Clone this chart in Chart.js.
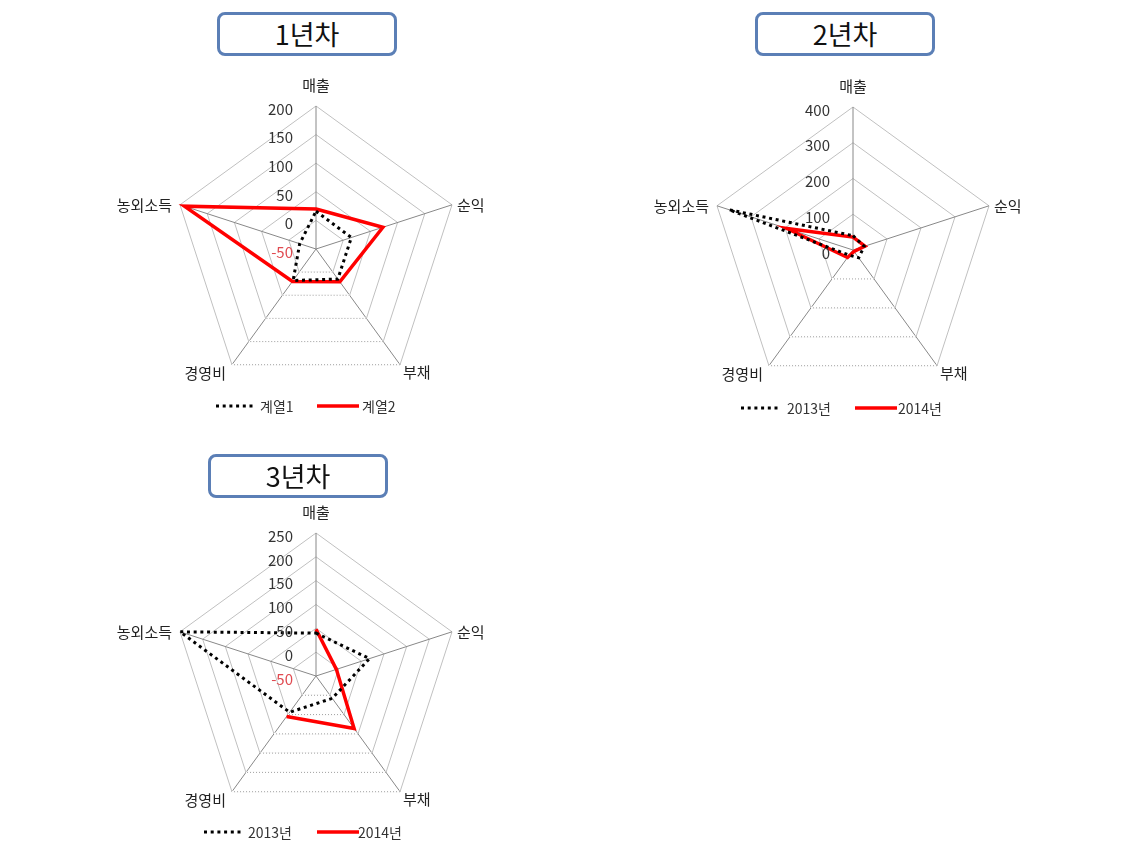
<!DOCTYPE html>
<html>
<head>
<meta charset="utf-8">
<script src="https://cdn.jsdelivr.net/npm/chart.js@4.4.1/dist/chart.umd.min.js"></script>
<style>
  html, body { margin:0; padding:0; background:#fff; width:1135px; height:847px; overflow:hidden; }
  body { position:relative; font-family:"Noto Sans CJK KR", "Noto Sans", sans-serif; }
  .wrap { position:absolute; width:460px; height:380px; }
  .title { position:absolute; box-sizing:border-box; width:180px; height:44px; border:3px solid #5b7fb6;
           border-radius:8px; background:#fff; font-size:27px; line-height:38px; text-align:center; color:#111; }
  .legend { position:absolute; font-size:14px; color:#333; line-height:16px; }
  .legend span { position:absolute; white-space:nowrap; }
  .legend svg { position:absolute; }
</style>
</head>
<body>
<script>
// ---------- data ----------
const categories = ['매출', '순익', '부채', '경영비', '농외소득'];

const year1Titles = '1년차';
const year1Labels = ['계열1', '계열2'];
const year1Series1 = [16, 15, 15, 18, -20];
const year1Series2 = [20, 73, 21, 20, 192];
const year1Ticks = { min: -50, max: 200, step: 50 };

const year2Titles = '2년차';
const year2Labels = ['2013년', '2014년'];
const year2Series1 = [40, 33, 27, 18, 365];
const year2Series2 = [36, 35, 5, 26, 195];
const year2Ticks = { min: 0, max: 400, step: 100 };

const year3Titles = '3년차';
const year3Labels = ['2013년', '2014년'];
const year3Series1 = [40, 68, 8, 44, 250];
const year3Series2 = [48, -5, 86, 55, null];
const year3Ticks = { min: -50, max: 250, step: 50 };

// ---------- layout / style ----------
const panels = [
  { title: year1Titles, labels: year1Labels, s1: year1Series1, s2: year1Series2, ticks: year1Ticks,
    wrap: [86, 59], titleBox: [217, 12], legend: { y: 398, dot: 215, t1: 260, line: 317, t2: 362 } },
  { title: year2Titles, labels: year2Labels, s1: year2Series1, s2: year2Series2, ticks: year2Ticks,
    wrap: [623, 60], titleBox: [755, 12], legend: { y: 400, dot: 740, t1: 787, line: 855, t2: 898 } },
  { title: year3Titles, labels: year3Labels, s1: year3Series1, s2: year3Series2, ticks: year3Ticks,
    wrap: [86, 486], titleBox: [208, 454], legend: { y: 824, dot: 203, t1: 248, line: 317, t2: 358 } }
];

const LABEL_POS = [
  { dx: 0, dy: -21, align: 'center' },
  { dx: 5, dy: 0, align: 'left' },
  { dx: 3, dy: 8, align: 'left' },
  { dx: -6, dy: 9, align: 'right' },
  { dx: -8, dy: 0, align: 'right' }
];

const textPlugin = {
  id: 'textPlugin',
  beforeDatasetsDraw(chart) {
    const s = chart.scales.r, ctx = chart.ctx;
    ctx.save();
    s.ticks.forEach(t => {
      if (t.value <= s.min) return;
      const a = s.getPointPositionForValue(2, t.value);
      const b = s.getPointPositionForValue(3, t.value);
      ctx.strokeStyle = '#fff'; ctx.lineWidth = 2; ctx.setLineDash([]);
      ctx.beginPath(); ctx.moveTo(a.x, a.y); ctx.lineTo(b.x, b.y); ctx.stroke();
      ctx.strokeStyle = '#a0a0a0'; ctx.lineWidth = 1; ctx.setLineDash([1, 2]);
      ctx.beginPath(); ctx.moveTo(a.x, a.y); ctx.lineTo(b.x, b.y); ctx.stroke();
    });
    ctx.restore();
  },
  afterDraw(chart) {
    const s = chart.scales.r, ctx = chart.ctx;
    ctx.save();
    ctx.textBaseline = 'middle';
    ctx.font = '15px "Noto Sans CJK KR"';
    ctx.fillStyle = '#222';
    chart.data.labels.forEach((lab, i) => {
      const p = s.getPointPosition(i, s.drawingArea);
      const o = LABEL_POS[i];
      ctx.textAlign = o.align;
      ctx.fillText(lab, p.x + o.dx, p.y + o.dy);
    });
    ctx.font = '15px "Noto Sans CJK KR"';
    ctx.textAlign = 'right';
    s.ticks.forEach(t => {
      const d = s.getDistanceFromCenterForValue(t.value);
      ctx.fillStyle = t.value < 0 ? '#e04a50' : '#333';
      ctx.fillText(String(t.value), s.xCenter - 23, s.yCenter - d + 3);
    });
    ctx.restore();
  }
};

panels.forEach((p, idx) => {
  const w = document.createElement('div');
  w.className = 'wrap';
  w.style.left = p.wrap[0] + 'px'; w.style.top = p.wrap[1] + 'px';
  const c = document.createElement('canvas');
  c.width = 460; c.height = 380;
  w.appendChild(c);
  document.body.appendChild(w);

  const t = document.createElement('div');
  t.className = 'title';
  t.style.left = p.titleBox[0] + 'px'; t.style.top = p.titleBox[1] + 'px';
  t.textContent = p.title;
  document.body.appendChild(t);

  const lg = document.createElement('div');
  lg.className = 'legend';
  lg.style.left = '0px'; lg.style.top = p.legend.y + 'px';
  lg.innerHTML =
    `<svg style="left:${p.legend.dot}px;top:0" width="40" height="16"><line x1="1" y1="8" x2="39" y2="8" stroke="#000" stroke-width="3" stroke-dasharray="3 3.7"/></svg>` +
    `<span style="left:${p.legend.t1}px;top:0">${p.labels[0]}</span>` +
    `<svg style="left:${p.legend.line}px;top:0" width="42" height="16"><line x1="0" y1="8" x2="42" y2="8" stroke="#ff0000" stroke-width="3.5"/></svg>` +
    `<span style="left:${p.legend.t2}px;top:0">${p.labels[1]}</span>`;
  document.body.appendChild(lg);

  new Chart(c, {
    type: 'radar',
    data: {
      labels: categories,
      datasets: [
        { label: p.labels[0], data: p.s1, borderColor: '#000', borderWidth: 3, borderDash: [3, 3.7],
          fill: false, pointRadius: 0, tension: 0, spanGaps: false },
        { label: p.labels[1], data: p.s2, borderColor: '#ff0000', borderWidth: 3.5,
          fill: false, pointRadius: 0, tension: 0, spanGaps: false }
      ]
    },
    options: {
      responsive: false,
      animation: false,
      devicePixelRatio: 1,
      layout: { padding: { left: 87, right: 87, top: 47, bottom: 47 } },
      plugins: { legend: { display: false }, tooltip: { enabled: false } },
      scales: {
        r: {
          min: p.ticks.min, max: p.ticks.max, beginAtZero: false,
          ticks: { display: false, stepSize: p.ticks.step },
          pointLabels: { display: false },
          grid: { color: '#c0c0c0', lineWidth: 1 },
          angleLines: { color: '#888888', lineWidth: 1 }
        }
      }
    },
    plugins: [textPlugin]
  });
});
</script>
</body>
</html>
